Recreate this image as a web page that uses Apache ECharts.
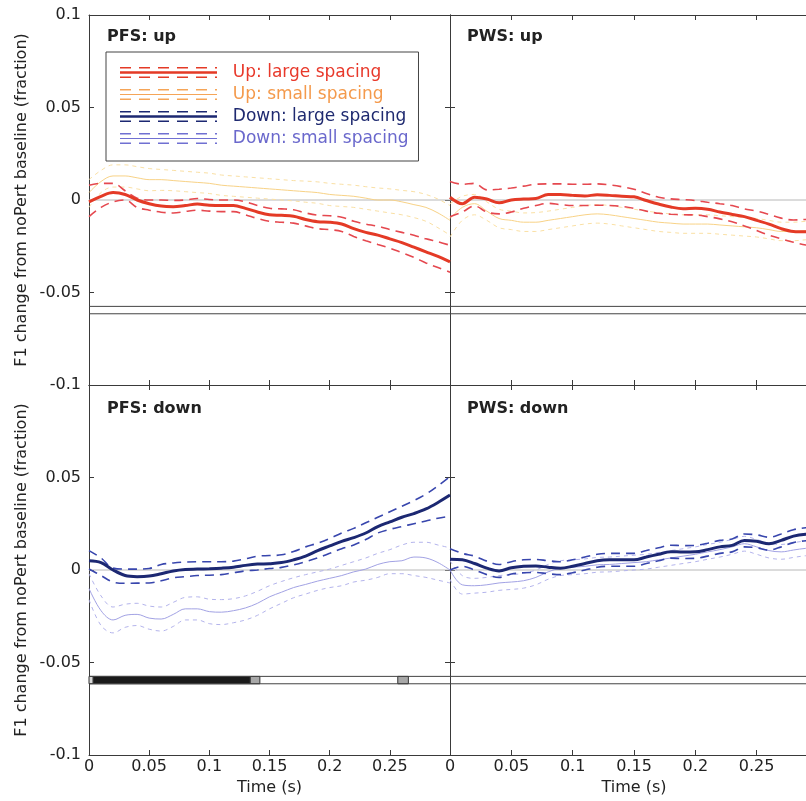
<!DOCTYPE html>
<html>
<head>
<meta charset="utf-8">
<script src="https://cdn.jsdelivr.net/npm/echarts@6/dist/echarts.min.js"></script>
<style>
  html, body { margin: 0; padding: 0; background: #fff; }
  #chart { width: 806px; height: 801px; }
</style>
</head>
<body>
<div id="chart"></div>
<script>
// Time base (s) shared by every trace
const timeSec = [0, 0.01, 0.02, 0.03, 0.04, 0.05, 0.06, 0.07, 0.08, 0.09, 0.10,
  0.11, 0.12, 0.13, 0.14, 0.15, 0.16, 0.17, 0.18, 0.19, 0.20,
  0.21, 0.22, 0.23, 0.24, 0.25, 0.26, 0.27, 0.28, 0.29, 0.30];

const conditionNames = ['Up: large spacing', 'Up: small spacing', 'Down: large spacing', 'Down: small spacing'];
const panelTitles = ['PFS: up', 'PWS: up', 'PFS: down', 'PWS: down'];
const xTicks = { min: 0, max: 0.3, step: 0.05 };
const yTicks = { min: -0.1, max: 0.1, step: 0.05 };

// PFS, up perturbation
const pfsUpLargeMean = [-0.001, 0.002, 0.004, 0.003, 0.0, -0.002, -0.0033, -0.0036, -0.003, -0.0022, -0.0028, -0.003, -0.003, -0.0045, -0.0065, -0.008, -0.0083, -0.0088, -0.0105, -0.0117, -0.012, -0.013, -0.0155, -0.0175, -0.019, -0.021, -0.023, -0.0255, -0.028, -0.0305, -0.0335];
const pfsUpLargeHi   = [0.008, 0.009, 0.009, 0.005, 0.001, 0.0, 0.0, -0.0002, 0.0, 0.0008, 0.0003, 0.0, 0.0, -0.001, -0.003, -0.0045, -0.0048, -0.0053, -0.007, -0.0082, -0.0085, -0.0093, -0.0115, -0.013, -0.0142, -0.016, -0.0175, -0.019, -0.021, -0.0225, -0.0245];
const pfsUpLargeLo   = [-0.009, -0.004, -0.001, 0.0, -0.004, -0.0055, -0.0066, -0.007, -0.0062, -0.0055, -0.006, -0.0063, -0.0063, -0.008, -0.010, -0.0115, -0.012, -0.0125, -0.014, -0.0155, -0.016, -0.017, -0.0197, -0.022, -0.024, -0.026, -0.0285, -0.031, -0.034, -0.0365, -0.039];
const pfsUpSmallMean = [0.004, 0.01, 0.013, 0.013, 0.012, 0.011, 0.011, 0.0105, 0.01, 0.0095, 0.009, 0.008, 0.0075, 0.007, 0.0065, 0.006, 0.0055, 0.005, 0.0045, 0.004, 0.003, 0.0025, 0.002, 0.001, 0.0, 0.0, -0.001, -0.0025, -0.004, -0.007, -0.011];
const pfsUpSmallHi   = [0.011, 0.016, 0.019, 0.019, 0.018, 0.017, 0.0165, 0.016, 0.0155, 0.015, 0.0145, 0.0135, 0.013, 0.0125, 0.012, 0.0115, 0.011, 0.0105, 0.0102, 0.0098, 0.009, 0.0085, 0.008, 0.0072, 0.0065, 0.006, 0.0052, 0.0045, 0.003, 0.0005, -0.003];
const pfsUpSmallLo   = [-0.004, 0.004, 0.007, 0.007, 0.006, 0.005, 0.0052, 0.005, 0.0045, 0.004, 0.0035, 0.0025, 0.002, 0.0015, 0.001, 0.0005, 0.0, -0.0005, -0.0012, -0.0018, -0.003, -0.0035, -0.004, -0.005, -0.006, -0.007, -0.008, -0.0095, -0.0115, -0.015, -0.019];

// PWS, up perturbation
const pwsUpLargeMean = [0.0015, -0.002, 0.0015, 0.0005, -0.0015, 0.0, 0.0005, 0.0008, 0.003, 0.003, 0.0025, 0.0022, 0.0028, 0.0025, 0.002, 0.0017, -0.0003, -0.0022, -0.0038, -0.0047, -0.0045, -0.005, -0.0065, -0.0078, -0.009, -0.011, -0.013, -0.0155, -0.017, -0.0172, -0.0172];
const pwsUpLargeHi   = [0.01, 0.0085, 0.009, 0.0055, 0.0058, 0.0065, 0.0075, 0.0085, 0.0087, 0.0087, 0.0085, 0.0085, 0.0087, 0.0082, 0.0072, 0.0058, 0.0035, 0.0015, 0.0006, 0.0002, -0.0003, -0.0012, -0.002, -0.003, -0.0048, -0.006, -0.0078, -0.0098, -0.0108, -0.0105, -0.0103];
const pwsUpLargeLo   = [-0.009, -0.0065, -0.0032, -0.0065, -0.0075, -0.0065, -0.0045, -0.003, -0.0018, -0.0025, -0.003, -0.003, -0.0028, -0.003, -0.0035, -0.0045, -0.006, -0.0072, -0.0077, -0.008, -0.0081, -0.009, -0.0102, -0.0118, -0.014, -0.0165, -0.019, -0.021, -0.0228, -0.0243, -0.025];
const pwsUpSmallMean = [-0.01, -0.004, -0.002, -0.006, -0.01, -0.011, -0.012, -0.012, -0.011, -0.01, -0.009, -0.008, -0.0075, -0.008, -0.009, -0.01, -0.011, -0.012, -0.0125, -0.013, -0.013, -0.013, -0.0135, -0.014, -0.0145, -0.015, -0.016, -0.017, -0.017, -0.0165, -0.016];
const pwsUpSmallHi   = [-0.002, 0.002, 0.003, -0.001, -0.005, -0.006, -0.007, -0.0068, -0.006, -0.005, -0.004, -0.003, -0.0025, -0.003, -0.004, -0.005, -0.006, -0.0068, -0.0075, -0.008, -0.008, -0.008, -0.0085, -0.009, -0.0095, -0.01, -0.011, -0.012, -0.012, -0.0115, -0.011];
const pwsUpSmallLo   = [-0.02, -0.011, -0.008, -0.011, -0.015, -0.016, -0.017, -0.017, -0.016, -0.015, -0.014, -0.013, -0.0125, -0.013, -0.014, -0.015, -0.016, -0.017, -0.0175, -0.018, -0.018, -0.018, -0.0185, -0.019, -0.0195, -0.02, -0.021, -0.022, -0.022, -0.0215, -0.021];

// PFS, down perturbation
const pfsDownLargeMean = [0.005, 0.004, 0.0, -0.003, -0.0036, -0.0033, -0.002, -0.0005, 0.0003, 0.0005, 0.0007, 0.001, 0.0015, 0.0025, 0.0032, 0.0034, 0.004, 0.0055, 0.0075, 0.0105, 0.013, 0.0155, 0.0175, 0.02, 0.0235, 0.026, 0.0285, 0.0305, 0.033, 0.0365, 0.0405];
const pfsDownLargeHi   = [0.0105, 0.0065, 0.001, 0.0005, 0.0005, 0.0008, 0.003, 0.0038, 0.0043, 0.0045, 0.0045, 0.0045, 0.0048, 0.006, 0.0075, 0.0078, 0.0082, 0.01, 0.0125, 0.0145, 0.017, 0.02, 0.0225, 0.0255, 0.0285, 0.0315, 0.0345, 0.0375, 0.041, 0.0455, 0.0505];
const pfsDownLargeLo   = [0.0005, -0.003, -0.0065, -0.0072, -0.0071, -0.007, -0.0058, -0.0042, -0.0036, -0.003, -0.0028, -0.0025, -0.0015, -0.0005, 0.0, 0.0008, 0.0014, 0.0028, 0.0045, 0.0065, 0.009, 0.0115, 0.0135, 0.0165, 0.02, 0.022, 0.0235, 0.025, 0.0265, 0.028, 0.029];
const pfsDownSmallMean = [-0.01, -0.022, -0.027, -0.0245, -0.024, -0.026, -0.0265, -0.024, -0.021, -0.021, -0.0225, -0.0228, -0.022, -0.0205, -0.018, -0.0145, -0.012, -0.0095, -0.0078, -0.006, -0.0045, -0.003, -0.001, 0.0005, 0.003, 0.0045, 0.005, 0.007, 0.0065, 0.004, 0.0];
const pfsDownSmallHi   = [-0.002, -0.014, -0.02, -0.0185, -0.018, -0.0195, -0.02, -0.0175, -0.0148, -0.0145, -0.0158, -0.016, -0.0155, -0.014, -0.0115, -0.0085, -0.0062, -0.0042, -0.0025, -0.001, 0.0005, 0.0025, 0.0045, 0.0065, 0.009, 0.011, 0.0135, 0.015, 0.015, 0.0135, 0.012];
const pfsDownSmallLo   = [-0.016, -0.03, -0.034, -0.031, -0.03, -0.032, -0.033, -0.0305, -0.027, -0.027, -0.029, -0.0295, -0.0285, -0.027, -0.0245, -0.021, -0.018, -0.015, -0.013, -0.011, -0.0095, -0.0085, -0.0065, -0.0055, -0.004, -0.002, -0.002, -0.003, -0.004, -0.0055, -0.007];

// PWS, down perturbation
const pwsDownLargeMean = [0.0058, 0.0055, 0.0035, 0.001, -0.0005, 0.0012, 0.002, 0.0022, 0.0015, 0.001, 0.002, 0.0035, 0.005, 0.0055, 0.0055, 0.0055, 0.007, 0.0085, 0.0099, 0.0097, 0.0098, 0.011, 0.0125, 0.0133, 0.016, 0.0155, 0.0142, 0.016, 0.0183, 0.0193, 0.0195];
const pwsDownLargeHi   = [0.0115, 0.009, 0.0075, 0.0048, 0.003, 0.0045, 0.0055, 0.0057, 0.005, 0.0045, 0.0055, 0.007, 0.0085, 0.009, 0.009, 0.009, 0.0105, 0.012, 0.0134, 0.0132, 0.0133, 0.0145, 0.016, 0.0168, 0.0195, 0.019, 0.0177, 0.0195, 0.0218, 0.0228, 0.023];
const pwsDownLargeLo   = [0.0, 0.002, 0.0, -0.0025, -0.004, -0.0022, -0.0015, -0.0013, -0.002, -0.0025, -0.0015, 0.0, 0.0015, 0.002, 0.002, 0.002, 0.0035, 0.005, 0.0064, 0.0062, 0.0063, 0.0075, 0.009, 0.0098, 0.0125, 0.012, 0.0107, 0.0125, 0.0148, 0.0158, 0.016];
const pwsDownSmallMean = [0.0, -0.008, -0.0085, -0.008, -0.007, -0.0065, -0.0058, -0.004, -0.001, 0.001, 0.0015, 0.002, 0.0028, 0.003, 0.0035, 0.004, 0.0045, 0.0055, 0.0065, 0.0075, 0.0085, 0.0098, 0.011, 0.0125, 0.0142, 0.0125, 0.0105, 0.0098, 0.0108, 0.0117, 0.012];
const pwsDownSmallHi   = [0.005, -0.003, -0.0045, -0.004, -0.003, -0.0025, -0.0018, 0.0, 0.003, 0.005, 0.0055, 0.006, 0.0068, 0.007, 0.0075, 0.008, 0.0085, 0.0095, 0.0105, 0.0115, 0.0125, 0.0138, 0.015, 0.0165, 0.0182, 0.0165, 0.0145, 0.0138, 0.0148, 0.0157, 0.016];
const pwsDownSmallLo   = [-0.005, -0.013, -0.0125, -0.012, -0.011, -0.0105, -0.0098, -0.008, -0.005, -0.003, -0.0025, -0.002, -0.0012, -0.001, -0.0005, 0.0, 0.0005, 0.0015, 0.0025, 0.0035, 0.0045, 0.0058, 0.007, 0.0085, 0.0102, 0.0085, 0.0065, 0.0058, 0.0068, 0.0077, 0.008];

// Significance strip (time bins) for PFS down
const stripTop = -0.0575;
const stripBottom = -0.0615;
const sigFrom  = [0, 0.0035, 0.134, 0.2566];
const sigTo    = [0.0035, 0.134, 0.142, 0.2654];
const sigLevel = ['light', 'dark', 'mid', 'mid'];

// ---------------------------------------------------------------------------
const FONT = 'DejaVu Sans';
const INK = '#222';
const FRAME = '#3a3a3a';

const palette = {
  'Up: large spacing':   { mean: '#e43a26', ci: '#e5484f', text: '#e8392b', key: '#e43a26', width: 3, faint: false },
  'Up: small spacing':   { mean: '#f8d286', ci: '#fae0a4', text: '#f49a4c', key: '#f5a558', width: 1, faint: true },
  'Down: large spacing': { mean: '#1c2872', ci: '#3846ad', text: '#1f2a70', key: '#1c2872', width: 3, faint: false },
  'Down: small spacing': { mean: '#a2a2e4', ci: '#b4b4ec', text: '#6a68cc', key: '#7070d2', width: 1, faint: true }
};
const stripShade = { light: '#d8d8d8', dark: '#1a1a1a', mid: '#a8a8a8' };

const grids = [
  { left: 89,  top: 15,  width: 361, height: 370 },
  { left: 450, top: 15,  width: 368, height: 370 },
  { left: 89,  top: 385, width: 361, height: 370 },
  { left: 450, top: 385, width: 368, height: 370 }
].map(g => Object.assign({ outerBoundsMode: 'none', containLabel: false }, g));

const labelFont = { fontFamily: FONT, fontSize: 16, color: INK };

function xAxisFor(g, position) {
  const isBottomRow = g >= 2;
  const labels = position === 'bottom' && isBottomRow;
  return {
    type: 'value', gridIndex: g, position: position,
    min: xTicks.min, max: xTicks.max, interval: xTicks.step,
    axisLine: { show: true, onZero: false, lineStyle: { color: FRAME, width: 1 } },
    axisTick: { show: true, inside: true, length: 5, lineStyle: { color: FRAME, width: 1 } },
    axisLabel: Object.assign({ show: labels, showMaxLabel: false, showMinLabel: true, margin: 4 }, labelFont),
    splitLine: { show: false },
    name: labels ? 'Time (s)' : '',
    nameLocation: 'middle', nameGap: 25,
    nameTextStyle: labelFont
  };
}

function yAxisFor(g, position) {
  const isLeftCol = g % 2 === 0;
  const labels = position === 'left' && isLeftCol;
  return {
    type: 'value', gridIndex: g, position: position,
    min: yTicks.min, max: yTicks.max, interval: yTicks.step,
    axisLine: { show: true, onZero: false, lineStyle: { color: FRAME, width: 1 } },
    axisTick: { show: true, inside: true, length: 5, lineStyle: { color: FRAME, width: 1 } },
    axisLabel: Object.assign({ show: labels, showMaxLabel: g === 0, margin: 8 }, labelFont),
    splitLine: { show: false },
    name: labels ? 'F1 change from noPert baseline (fraction)' : '',
    nameLocation: 'middle', nameGap: 59,
    nameTextStyle: labelFont
  };
}

const xAxes = [], yAxes = [];
for (let g = 0; g < 4; g++) {
  xAxes.push(xAxisFor(g, 'bottom'), xAxisFor(g, 'top'));
  yAxes.push(yAxisFor(g, 'left'), yAxisFor(g, 'right'));
}

const pair = vals => vals.map((v, i) => [timeSec[i], v]);

function trio(name, g, mean, hi, lo) {
  const p = palette[name];
  const common = {
    name: name, type: 'line', xAxisIndex: 2 * g, yAxisIndex: 2 * g,
    showSymbol: false, symbol: 'none', smooth: 0.35, silent: true,
    clip: true, animation: false
  };
  const ciStyle = p.faint
    ? { color: p.ci, width: 1, type: [4, 4] }
    : { color: p.ci, width: 1.6, type: [9, 6] };
  const meanStyle = { color: p.mean, width: p.width };
  return [
    Object.assign({}, common, { data: pair(hi), lineStyle: ciStyle, itemStyle: { color: p.key }, z: p.faint ? 2 : 4 }),
    Object.assign({}, common, { data: pair(lo), lineStyle: ciStyle, itemStyle: { color: p.key }, z: p.faint ? 2 : 4 }),
    Object.assign({}, common, { data: pair(mean), lineStyle: meanStyle, itemStyle: { color: p.key }, z: p.faint ? 3 : 5 })
  ];
}

// A horizontal guide across one panel, from the axis limits
function hline(g, value, color) {
  return {
    name: 'guide', type: 'line', xAxisIndex: 2 * g, yAxisIndex: 2 * g,
    data: [[xTicks.min, value], [xTicks.max, value]],
    showSymbol: false, symbol: 'none', silent: true, z: 1,
    lineStyle: { color: color, width: 1 }
  };
}

function guides(g, withSig) {
  const list = [
    hline(g, 0, '#b8b8b8'),
    hline(g, stripTop, '#444'),
    hline(g, stripBottom, '#444')
  ];
  if (withSig) {
    list[1].markArea = {
      silent: true, animation: false,
      data: sigFrom.map((from, i) => [
        { xAxis: from, yAxis: stripTop,
          itemStyle: { color: stripShade[sigLevel[i]], borderColor: '#333', borderWidth: 1 } },
        { xAxis: sigTo[i], yAxis: stripBottom }
      ])
    };
  }
  return list;
}

const series = [].concat(
  guides(0, false), guides(1, false), guides(2, true), guides(3, false),
  trio('Up: small spacing', 0, pfsUpSmallMean, pfsUpSmallHi, pfsUpSmallLo),
  trio('Up: large spacing', 0, pfsUpLargeMean, pfsUpLargeHi, pfsUpLargeLo),
  trio('Up: small spacing', 1, pwsUpSmallMean, pwsUpSmallHi, pwsUpSmallLo),
  trio('Up: large spacing', 1, pwsUpLargeMean, pwsUpLargeHi, pwsUpLargeLo),
  trio('Down: small spacing', 2, pfsDownSmallMean, pfsDownSmallHi, pfsDownSmallLo),
  trio('Down: large spacing', 2, pfsDownLargeMean, pfsDownLargeHi, pfsDownLargeLo),
  trio('Down: small spacing', 3, pwsDownSmallMean, pwsDownSmallHi, pwsDownSmallLo),
  trio('Down: large spacing', 3, pwsDownLargeMean, pwsDownLargeHi, pwsDownLargeLo)
);

// Legend key: dashed bound, solid mean, dashed bound
function keyIcon(meanThickness) {
  const dashXs = [0, 19, 38, 57, 76];
  let d = '';
  const dashRow = (y, h) => {
    dashXs.forEach(x => { d += 'M' + x + ',' + y + 'h11v' + h + 'h-11z'; });
    d += 'M95,' + y + 'h2v' + h + 'h-2z';
  };
  dashRow(0, 1.6);
  dashRow(9.4, 1.6);
  const my = 5.5 - meanThickness / 2;
  d += 'M0,' + my + 'h97v' + meanThickness + 'h-97z';
  return 'path://' + d;
}

const legendData = conditionNames.map(n => ({
  name: n,
  icon: keyIcon(palette[n].faint ? 1.2 : 2.4),
  itemStyle: { color: palette[n].key, borderWidth: 0 },
  textStyle: { color: palette[n].text }
}));

const titles = panelTitles.map((t, i) => ({
  text: t,
  left: i % 2 === 0 ? 107 : 467,
  top: i < 2 ? 29 : 401,
  padding: 0,
  textStyle: { fontFamily: FONT, fontSize: 16, fontWeight: 'bold', color: INK }
}));

const option = {
  animation: false,
  backgroundColor: '#fff',
  title: titles,
  grid: grids,
  xAxis: xAxes,
  yAxis: yAxes,
  legend: {
    left: 106, top: 52, orient: 'vertical',
    itemWidth: 97, itemHeight: 11, itemGap: 5,
    padding: [12, 10, 14, 14],
    borderColor: '#444', borderWidth: 1, backgroundColor: '#fff',
    itemStyle: { borderWidth: 0 },
    formatter: name => '  ' + name,
    textStyle: { fontFamily: FONT, fontSize: 17, lineHeight: 17 },
    data: legendData
  },
  series: series
};

const chart = echarts.init(document.getElementById('chart'), null, { renderer: 'canvas' });
chart.setOption(option);
</script>
</body>
</html>
